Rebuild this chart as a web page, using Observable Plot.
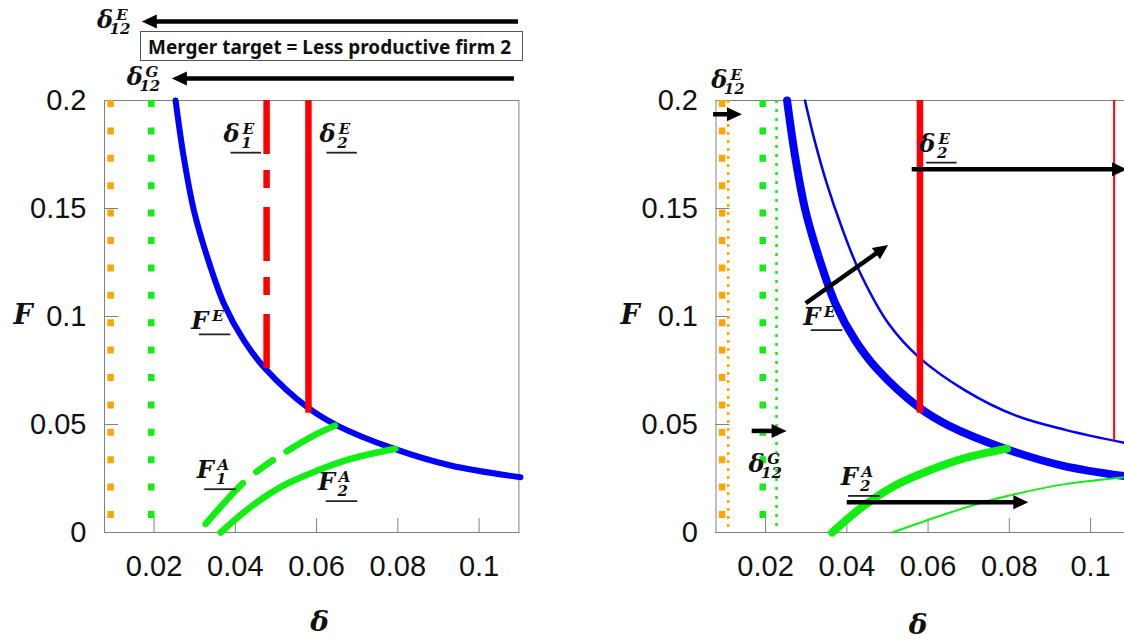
<!DOCTYPE html>
<html><head><meta charset="utf-8">
<script src="https://cdn.jsdelivr.net/npm/d3@7"></script>
<script src="https://cdn.jsdelivr.net/npm/@observablehq/plot@0.6"></script>
<style>
html,body{margin:0;padding:0;background:#fff;overflow:hidden}
#wrap{position:relative;width:1124px;height:639px;overflow:hidden;background:#fff}
#left,#right{position:absolute;top:0}
#left{left:0;width:562px}
#right{left:562px;width:578px}
#wrap svg{max-width:none !important;display:block}
#box{position:absolute;left:140px;top:31px;width:381px;height:27.5px;border:1.5px solid #555;background:#fff}
#boxtext{position:absolute;left:7px;top:50%;white-space:nowrap;font:700 20px "Noto Sans";transform-origin:0 50%;color:#111}
</style></head><body>
<div id="wrap"><div id="left"></div><div id="right"></div><div id="box"><span id="boxtext">Merger target = Less productive firm 2</span></div></div>
<script>
// ---- axes ----
const xDomain = [0.0078, 0.1098];
const yDomain = [0, 0.2];
const xTicks = [0.02, 0.04, 0.06, 0.08, 0.1];
const xTickLabels = ["0.02", "0.04", "0.06", "0.08", "0.1"];
const yTicks = [0, 0.05, 0.1, 0.15, 0.2];
const yTickLabels = ["0", "0.05", "0.1", "0.15", "0.2"];

// ---- curves [delta, F] ----
const fE = [[0.0253,0.2],[0.0273,0.1738],[0.0298,0.1491],[0.0331,0.1275],[0.0372,0.1059],[0.0421,0.0889],[0.0474,0.0758],[0.0577,0.0580],[0.0651,0.0495],[0.0790,0.0388],[0.0930,0.0310],[0.1102,0.0256]];
const fEShifted = [[0.0297,0.2],[0.0320,0.1820],[0.0350,0.1620],[0.0389,0.1405],[0.0430,0.1213],[0.0503,0.0966],[0.0577,0.0812],[0.0692,0.0657],[0.0815,0.0542],[0.0938,0.0475],[0.1084,0.0415],[0.1102,0.0409]];
const fA1 = [[0.0327,0.0040],[0.0417,0.0225],[0.0462,0.0295],[0.0536,0.0387],[0.0593,0.0449],[0.0655,0.0503]];
const fA2 = [[0.0364,0.0],[0.0437,0.0117],[0.0519,0.0218],[0.0602,0.0287],[0.0684,0.0341],[0.0794,0.0388]];
const fA2Shifted = [[0.0512,0.0],[0.0600,0.0058],[0.0717,0.0130],[0.0815,0.0178],[0.0938,0.0224],[0.1084,0.0256],[0.1102,0.0259]];

// ---- vertical thresholds ----
const d12E = 0.0093, d12Eshift = 0.0108;
const d12G = 0.0193, d12Gshift = 0.0227;
const d1E = 0.0477, d1Ebottom = 0.0752;
const d2E = 0.0580, d2Ebottom = 0.0552;
const d2Eshift = 0.1058, d2EshiftBottom = 0.0425;

// ---- arrows [x1, y1, x2, y2] ----
const arrowsLeft = [[0.1097,0.2363,0.0171,0.2363],[0.1087,0.2100,0.0245,0.2100]];
const arrowsRight = [[0.0072,0.1934,0.0143,0.1934],[0.0167,0.0468,0.0253,0.0468],[0.0300,0.1059,0.0503,0.1329],[0.0561,0.1679,0.1091,0.1679],[0.0401,0.0138,0.0848,0.0138]];

// ---- labels ----
const labelsLeft = [
  {x:0.00805, y:0.2332, base:"δ", sup:"E", sub:"12", ul:false},
  {x:0.0154, y:0.2069, base:"δ", sup:"G", sub:"12", ul:false},
  {x:0.0392, y:0.1807, base:"δ", sup:"E", sub:"1", ul:true},
  {x:0.0628, y:0.1807, base:"δ", sup:"E", sub:"2", ul:true},
  {x:0.0314, y:0.0938, base:"F", sup:"E", sub:"", ul:true},
  {x:0.0327, y:0.0249, base:"F", sup:"A", sub:"1", ul:true},
  {x:0.0626, y:0.0194, base:"F", sup:"A", sub:"2", ul:true}
];
const labelsRight = [
  {x:0.0087, y:0.2054, base:"δ", sup:"E", sub:"12", ul:false},
  {x:0.0179, y:0.0279, base:"δ", sup:"G", sub:"12", ul:false},
  {x:0.0315, y:0.0958, base:"F", sup:"E", sub:"", ul:true},
  {x:0.0599, y:0.1761, base:"δ", sup:"E", sub:"2", ul:true},
  {x:0.0407, y:0.0218, base:"F", sup:"A", sub:"2", ul:true}
];

const ORANGE = "#ffa500", GREEN = "#11ee11", BLUE = "#0000ff", RED = "#ff0000", GRAY = "#808080";
const MATH = "DejaVu Serif";
const BS = 24, SS = 15;
const xLab = new Map(xTicks.map((t, i) => [t, xTickLabels[i]]));
const yLab = new Map(yTicks.map((t, i) => [t, yTickLabels[i]]));

const ctx2d = document.createElement("canvas").getContext("2d");
function tw(s, size) { ctx2d.font = `italic bold ${size}px "${MATH}"`; return ctx2d.measureText(s).width; }

function mathLabels(data) {
  return Plot.text(data, {x: "x", y: "y", text: "base",
    render(index, scales, values) {
      const g = d3.create("svg:g").attr("font-family", MATH).attr("font-style", "italic").attr("font-weight", "bold").attr("fill", "#111");
      for (const i of index) {
        const d = data[i], X = values.x[i], Y = values.y[i];
        const bw = tw(d.base, BS);
        g.append("text").attr("x", X).attr("y", Y).attr("font-size", BS).text(d.base);
        if (d.sup) g.append("text").attr("x", X + bw + 1).attr("y", Y - 8).attr("font-size", SS).text(d.sup);
        if (d.sub) g.append("text").attr("x", X + bw - 1).attr("y", Y + 6).attr("font-size", SS).text(d.sub);
        if (d.ul) {
          const w = bw + 2 + Math.max(tw(d.sup, SS), tw(d.sub, SS));
          const off = d.sub ? 11 : 5;
          g.append("line").attr("x1", X - 1).attr("x2", X + w).attr("y1", Y + off).attr("y2", Y + off).attr("stroke", "#222").attr("stroke-width", 1.8);
        }
      }
      return g.node();
    }});
}

function arrows(data) {
  return Plot.link(data, {x1: d => d[0], y1: d => d[1], x2: d => d[2], y2: d => d[3], stroke: "black",
    render(index, scales, values) {
      const g = d3.create("svg:g");
      const L = 15, W = 7, sw = 4.5;
      for (const i of index) {
        const x1 = values.x1[i], y1 = values.y1[i], x2 = values.x2[i], y2 = values.y2[i];
        const dx = x2 - x1, dy = y2 - y1, len = Math.hypot(dx, dy), ux = dx / len, uy = dy / len;
        const bx = x2 - ux * L, by = y2 - uy * L;
        g.append("line").attr("x1", x1).attr("y1", y1).attr("x2", bx + ux * 2).attr("y2", by + uy * 2).attr("stroke", "black").attr("stroke-width", sw);
        g.append("path").attr("d", `M${x2},${y2}L${bx - uy * W},${by + ux * W}L${bx + uy * W},${by - ux * W}Z`).attr("fill", "black");
      }
      return g.node();
    }});
}

const PW = 414.4, PH = 432;
function baseMarks(fdx, ddx, ddy) {
  return [
    Plot.frame({stroke: GRAY, strokeWidth: 1}),
    Plot.ruleX(xTicks, {stroke: GRAY, strokeWidth: 1, insetTop: PH - 14}),
    Plot.ruleY(yTicks, {stroke: GRAY, strokeWidth: 1, insetRight: PW - 14}),
    Plot.axisX({ticks: xTicks, tickSize: 0, tickPadding: 23, fontSize: 29, tickFormat: d => xLab.get(d), label: null}),
    Plot.axisY({ticks: yTicks, tickSize: 0, tickPadding: 18, fontSize: 29, tickFormat: d => yLab.get(d), label: null}),
    Plot.text(["F"], {frameAnchor: "left", dx: fdx, dy: 7, lineAnchor: "bottom", textAnchor: "start", fontFamily: MATH, fontStyle: "italic", fontWeight: "bold", fontSize: 27, fill: "#111"}),
    Plot.text(["δ"], {frameAnchor: "bottom", dx: ddx, dy: ddy, lineAnchor: "bottom", textAnchor: "middle", fontFamily: MATH, fontStyle: "italic", fontWeight: "bold", fontSize: 28, fill: "#111"})
  ];
}
const vline = (x, y1, y2, o) => Plot.ruleX([x], {y1, y2, ...o});
const line = (data, o) => Plot.line(data, {x: d => d[0], y: d => d[1], curve: "catmull-rom", ...o});

const left = Plot.plot({
  width: 562, height: 639,
  marginLeft: 104, marginRight: 562 - 104 - PW, marginTop: 100, marginBottom: 107,
  style: {fontFamily: "Liberation Sans", background: "#fff", overflow: "visible", color: "#111"},
  x: {domain: xDomain}, y: {domain: yDomain},
  marks: [
    ...baseMarks(-91, 8, 98),
    vline(d12E, 0.2, 0, {stroke: ORANGE, strokeWidth: 6.5, strokeDasharray: "7,20.4"}),
    vline(d12G, 0.2, 0, {stroke: GREEN, strokeWidth: 6.5, strokeDasharray: "7,20.4"}),
    line(fE, {stroke: BLUE, strokeWidth: 6}),
    vline(d1E, 0.2, d1Ebottom, {stroke: RED, strokeWidth: 6.5, strokeDasharray: "54,16,18,19"}),
    vline(d2E, 0.2, d2Ebottom, {stroke: RED, strokeWidth: 6.5}),
    line(fA1, {stroke: GREEN, strokeWidth: 6.5, strokeDasharray: "55,18,20,16"}),
    line(fA2, {stroke: GREEN, strokeWidth: 6.5}),
    arrows(arrowsLeft),
    mathLabels(labelsLeft)
  ]
});
document.getElementById("left").appendChild(left);

const RML = 153.5, RW = 578;
const right = Plot.plot({
  width: RW, height: 639,
  marginLeft: RML, marginRight: RW - RML - PW, marginTop: 100, marginBottom: 107,
  style: {fontFamily: "Liberation Sans", background: "#fff", overflow: "visible", color: "#111"},
  x: {domain: xDomain}, y: {domain: yDomain},
  marks: [
    ...baseMarks(-95.5, -5, 101),
    vline(d12E, 0.2, 0, {stroke: ORANGE, strokeWidth: 6.5, strokeDasharray: "7,20.4"}),
    vline(d12Eshift, 0.2, 0, {stroke: ORANGE, strokeWidth: 2.5, strokeDasharray: "3,5"}),
    vline(d12G, 0.2, 0, {stroke: GREEN, strokeWidth: 6.5, strokeDasharray: "7,20.4"}),
    vline(d12Gshift, 0.2, 0, {stroke: GREEN, strokeWidth: 2.5, strokeDasharray: "3,6"}),
    line(fE, {stroke: BLUE, strokeWidth: 8}),
    line(fEShifted, {stroke: BLUE, strokeWidth: 2.5}),
    vline(d2E, 0.2, d2Ebottom, {stroke: RED, strokeWidth: 6.5}),
    vline(d2Eshift, 0.2, d2EshiftBottom, {stroke: RED, strokeWidth: 2}),
    line(fA2, {stroke: GREEN, strokeWidth: 8}),
    line(fA2Shifted, {stroke: GREEN, strokeWidth: 2}),
    arrows(arrowsRight),
    mathLabels(labelsRight)
  ]
});
document.getElementById("right").appendChild(right);

// fit box text to its measured width
const bt = document.getElementById("boxtext");
const w = bt.getBoundingClientRect().width;
bt.style.transform = `translateY(-50%) scaleX(${363 / w})`;
</script></body></html>
